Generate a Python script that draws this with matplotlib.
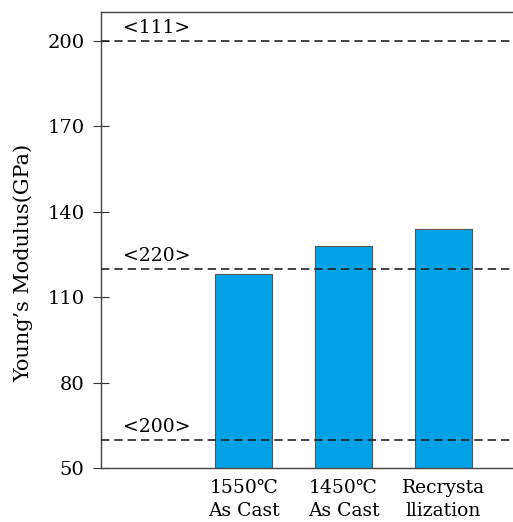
import numpy as np
import matplotlib.pyplot as plt

plt.rcParams['font.family'] = ['DejaVu Serif', 'DejaVu Sans']

# data
categories = ['', '1550\u2103\nAs Cast', '1450\u2103\nAs Cast', 'Recrysta\nllization']
modulus = [np.nan, 118, 128, 134]
ref_values = [200, 120, 60]
ref_labels = ['<111>', '<220>', '<200>']
yticks = [50, 80, 110, 140, 170, 200]

fig = plt.figure(figsize=(5.13, 5.22), dpi=100)
ax = fig.add_axes([0.197, 0.1034, 0.803, 0.8736])

x = np.arange(len(categories))
ax.bar(x, modulus, width=0.57, color='#00A2E6', edgecolor='#555555', linewidth=0.8, zorder=2)

for val, lab in zip(ref_values, ref_labels):
    ax.axhline(val, color='#222222', linestyle=(0, (5, 3)), linewidth=1.2, zorder=3)
    ax.text(-0.21, val + 1.2, lab, fontsize=13.5, ha='left', va='bottom')

ax.set_xlim(-0.43, 3.7)
ax.set_ylim(50, 210)
ax.set_yticks(yticks)
ax.set_xticks(x)
ax.set_xticklabels(categories, fontsize=13.5, linespacing=1.32)
ax.tick_params(axis='x', length=0, pad=8)
ax.tick_params(axis='y', direction='inout', length=12, width=0.8, labelsize=14, pad=6, color='#333333')
ax.set_ylabel('Young\u2019s Modulus(GPa)', fontsize=15)
ax.yaxis.set_label_coords(-0.165, 0.45)

for s in ['left', 'top', 'bottom']:
    ax.spines[s].set_color('#444444')
    ax.spines[s].set_linewidth(1.0)
ax.spines['right'].set_visible(False)

fig.savefig('out.png', dpi=100)
